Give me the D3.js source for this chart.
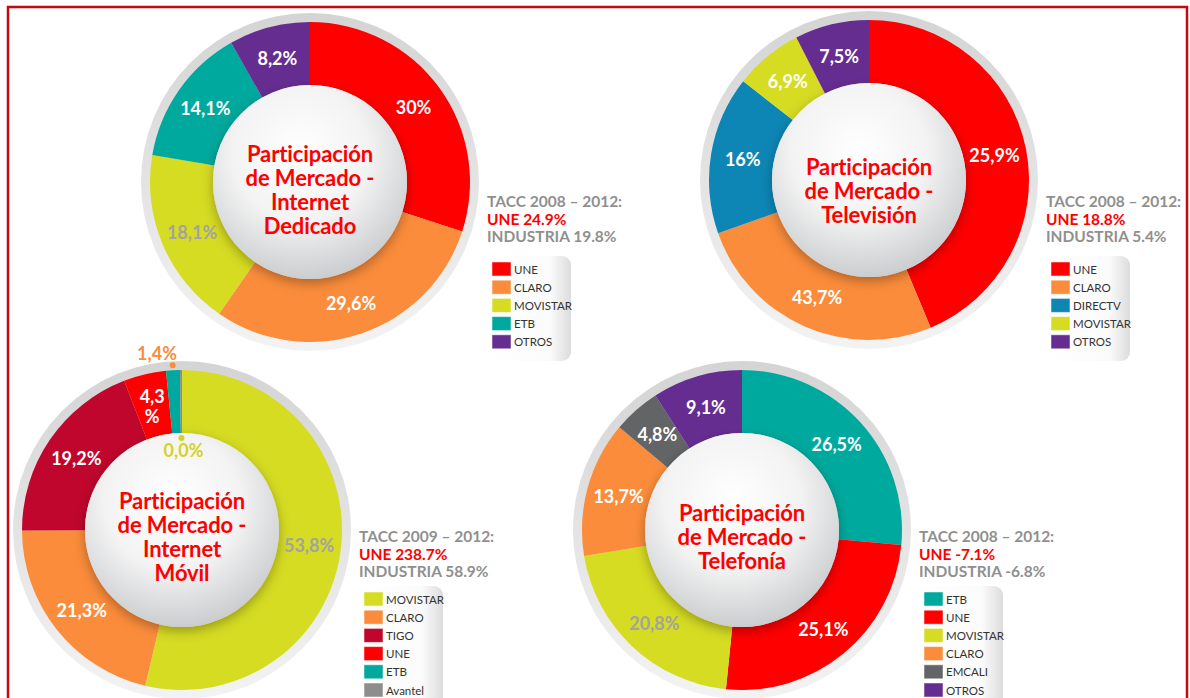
<!DOCTYPE html>
<html>
  <head>
    <title>Participación de Mercado</title>
    <style>
      body { margin: 0; background: #fff; }
      svg { display: block; }
      text { font-family: Lato, 'Open Sans', sans-serif; }
    </style>
  </head>
  <body>
    <svg id="svg" width="1190" height="698"></svg>
    <script src="https://cdn.jsdelivr.net/npm/d3@7"></script>
    <script>
      // ---- data ----
      const dedicadoCats = ['UNE', 'CLARO', 'MOVISTAR', 'ETB', 'OTROS'];
      const dedicadoValues = [30, 29.6, 18.1, 14.1, 8.2];
      const dedicadoLabels = ['30%', '29,6%', '18,1%', '14,1%', '8,2%'];
      const dedicadoTacc = ['TACC 2008 – 2012:', 'UNE 24.9%', 'INDUSTRIA 19.8%'];

      const tvCats = ['UNE', 'CLARO', 'DIRECTV', 'MOVISTAR', 'OTROS'];
      // slice sizes as drawn in the picture (the printed labels are swapped for UNE / CLARO)
      const tvValues = [43.7, 25.9, 16, 6.9, 7.5];
      const tvLabels = ['25,9%', '43,7%', '16%', '6,9%', '7,5%'];
      const tvTacc = ['TACC 2008 – 2012:', 'UNE 18.8%', 'INDUSTRIA 5.4%'];

      const movilCats = ['MOVISTAR', 'CLARO', 'TIGO', 'UNE', 'ETB', 'Avantel'];
      const movilValues = [53.8, 21.3, 19.2, 4.3, 1.4, 0.0];
      const movilLabels = ['53,8%', '21,3%', '19,2%', '4,3\n%', '1,4%', '0,0%'];
      const movilTacc = ['TACC 2009 – 2012:', 'UNE 238.7%', 'INDUSTRIA 58.9%'];

      const telCats = ['ETB', 'UNE', 'MOVISTAR', 'CLARO', 'EMCALI', 'OTROS'];
      const telValues = [26.5, 25.1, 20.8, 13.7, 4.8, 9.1];
      const telLabels = ['26,5%', '25,1%', '20,8%', '13,7%', '4,8%', '9,1%'];
      const telTacc = ['TACC 2008 – 2012:', 'UNE -7.1%', 'INDUSTRIA -6.8%'];

      const colors = {
        UNE: '#ff0000',
        CLARO: '#fb8c3b',
        MOVISTAR: '#d6dc22',
        ETB: '#00a99d',
        OTROS: '#662d91',
        DIRECTV: '#0d86b5',
        TIGO: '#c0062c',
        EMCALI: '#636466',
        Avantel: '#8d8d8d',
      };

      const rInner = 97;
      const rOuter = 160;
      const rRing = 169;

      const svg = d3.select('#svg');
      const defs = svg.append('defs');

      const ringGrad = defs.append('linearGradient').attr('id', 'ringGrad')
        .attr('x1', 0).attr('y1', 0).attr('x2', 0).attr('y2', 1);
      ringGrad.append('stop').attr('offset', '0%').attr('stop-color', '#d4d4d4');
      ringGrad.append('stop').attr('offset', '100%').attr('stop-color', '#f3f3f3');

      const holeGrad = defs.append('radialGradient').attr('id', 'holeGrad')
        .attr('cx', '45%').attr('cy', '35%').attr('r', '70%');
      holeGrad.append('stop').attr('offset', '0%').attr('stop-color', '#ffffff');
      holeGrad.append('stop').attr('offset', '50%').attr('stop-color', '#f3f3f3');
      holeGrad.append('stop').attr('offset', '100%').attr('stop-color', '#c5c7ca');

      const legGrad = defs.append('linearGradient').attr('id', 'legGrad')
        .attr('x1', 0).attr('y1', 0).attr('x2', 1).attr('y2', 0);
      legGrad.append('stop').attr('offset', '0%').attr('stop-color', '#ffffff');
      legGrad.append('stop').attr('offset', '75%').attr('stop-color', '#fbfbfb');
      legGrad.append('stop').attr('offset', '100%').attr('stop-color', '#dcdcdc');

      const shadow = defs.append('filter').attr('id', 'shadow')
        .attr('x', '-30%').attr('y', '-30%').attr('width', '160%').attr('height', '160%');
      shadow.append('feDropShadow').attr('dx', 0).attr('dy', 4)
        .attr('stdDeviation', 6).attr('flood-color', '#000').attr('flood-opacity', 0.3);

      // frame
      svg.append('rect')
        .attr('x', 8).attr('y', 7).attr('width', 1179).attr('height', 720)
        .attr('fill', 'none').attr('stroke', '#c8080e').attr('stroke-width', 2.5);

      const charts = [
        { cats: dedicadoCats, values: dedicadoValues, labels: dedicadoLabels, tacc: dedicadoTacc,
          title: ['Participación', 'de Mercado -', 'Internet', 'Dedicado'],
          cx: 310, cy: 182, titleY: 153, taccY: 201, legY: 256, greyLabel: 'MOVISTAR' },
        { cats: tvCats, values: tvValues, labels: tvLabels, tacc: tvTacc,
          title: ['Participación', 'de Mercado -', 'Televisión'],
          cx: 869, cy: 180, titleY: 166, taccY: 201, legY: 256, greyLabel: null },
        { cats: movilCats, values: movilValues, labels: movilLabels, tacc: movilTacc,
          title: ['Participación', 'de Mercado -', 'Internet', 'Móvil'],
          cx: 182, cy: 530, titleY: 500, taccY: 536, legY: 586, greyLabel: 'MOVISTAR',
          callouts: { 4: { dot: 165, text: 177, dx: -15, color: '#fb8c3b' },
                      5: { dot: 92, text: 80, dx: 2, color: '#d6d21f' } } },
        { cats: telCats, values: telValues, labels: telLabels, tacc: telTacc,
          title: ['Participación', 'de Mercado -', 'Telefonía'],
          cx: 742, cy: 530, titleY: 512, taccY: 536, legY: 586, greyLabel: 'MOVISTAR' },
      ];

      const pie = d3.pie().sort(null).value((d) => Math.max(d.value, 0.2));
      const arc = d3.arc().innerRadius(rInner).outerRadius(rOuter);
      const labelArc = d3.arc().innerRadius(128).outerRadius(128);

      charts.forEach((c) => {
        const data = c.cats.map((cat, i) => ({ cat, value: c.values[i], label: c.labels[i], i }));
        const g = svg.append('g').attr('transform', `translate(${c.cx}, ${c.cy})`);

        g.append('circle').attr('r', rRing).attr('fill', 'url(#ringGrad)');

        g.selectAll('path.slice')
          .data(pie(data))
          .join('path')
          .attr('class', 'slice')
          .attr('d', arc)
          .attr('fill', (d) => colors[d.data.cat]);

        g.append('circle').attr('r', rInner).attr('fill', 'url(#holeGrad)')
          .attr('filter', 'url(#shadow)');

        // slice labels
        pie(data).forEach((d) => {
          const co = c.callouts && c.callouts[d.data.i];
          if (co) {
            const pd = d3.arc().innerRadius(co.dot).outerRadius(co.dot).centroid(d);
            g.append('circle').attr('cx', pd[0]).attr('cy', pd[1]).attr('r', 3).attr('fill', co.color);
            const pt = d3.arc().innerRadius(co.text).outerRadius(co.text).centroid(d);
            g.append('text').attr('x', pt[0] + co.dx).attr('y', pt[1])
              .attr('text-anchor', 'middle').attr('dominant-baseline', 'central')
              .attr('font-size', 18).attr('font-weight', 700).attr('fill', co.color)
              .text(d.data.label);
            return;
          }
          const p = labelArc.centroid(d);
          const lines = d.data.label.split('\n');
          const t = g.append('text')
            .attr('text-anchor', 'middle')
            .attr('font-size', 18).attr('font-weight', 700)
            .attr('fill', d.data.cat === c.greyLabel ? '#a3a3a3' : '#ffffff');
          lines.forEach((ln, k) => {
            t.append('tspan').attr('x', p[0])
              .attr('y', p[1] + (k - (lines.length - 1) / 2) * 20)
              .attr('dominant-baseline', 'central').text(ln);
          });
        });

        // title
        const tt = svg.append('text').attr('text-anchor', 'middle')
          .attr('font-size', 22).attr('font-weight', 700).attr('fill', '#ff0000')
          .attr('letter-spacing', -0.1);
        c.title.forEach((ln, k) => {
          tt.append('tspan').attr('x', c.cx).attr('y', c.titleY + k * 24)
            .attr('dominant-baseline', 'central').text(ln);
        });

        // TACC block
        const tx = c.cx + 177;
        c.tacc.forEach((ln, k) => {
          svg.append('text').attr('x', tx).attr('y', c.taccY + k * 17.5)
            .attr('dominant-baseline', 'central')
            .attr('font-size', 15.5).attr('font-weight', 700)
            .attr('fill', k === 1 ? '#ff0000' : '#8f8f8f')
            .text(ln);
        });

        // legend
        const rowH = 18.2;
        const lg = svg.append('g').attr('transform', `translate(${tx}, ${c.legY})`);
        lg.append('rect').attr('width', 84).attr('height', 14 + c.cats.length * rowH)
          .attr('rx', 9).attr('fill', 'url(#legGrad)');
        c.cats.forEach((cat, i) => {
          const y = 13 + i * rowH;
          lg.append('rect').attr('x', 5).attr('y', y - 7).attr('width', 19).attr('height', 14)
            .attr('fill', colors[cat]).attr('stroke', '#ffffff').attr('stroke-opacity', 0.5);
          lg.append('text').attr('x', 27).attr('y', y).attr('dominant-baseline', 'central')
            .attr('font-size', 11.5).attr('fill', '#333333').text(cat);
        });
      });
    </script>
  </body>
</html>
